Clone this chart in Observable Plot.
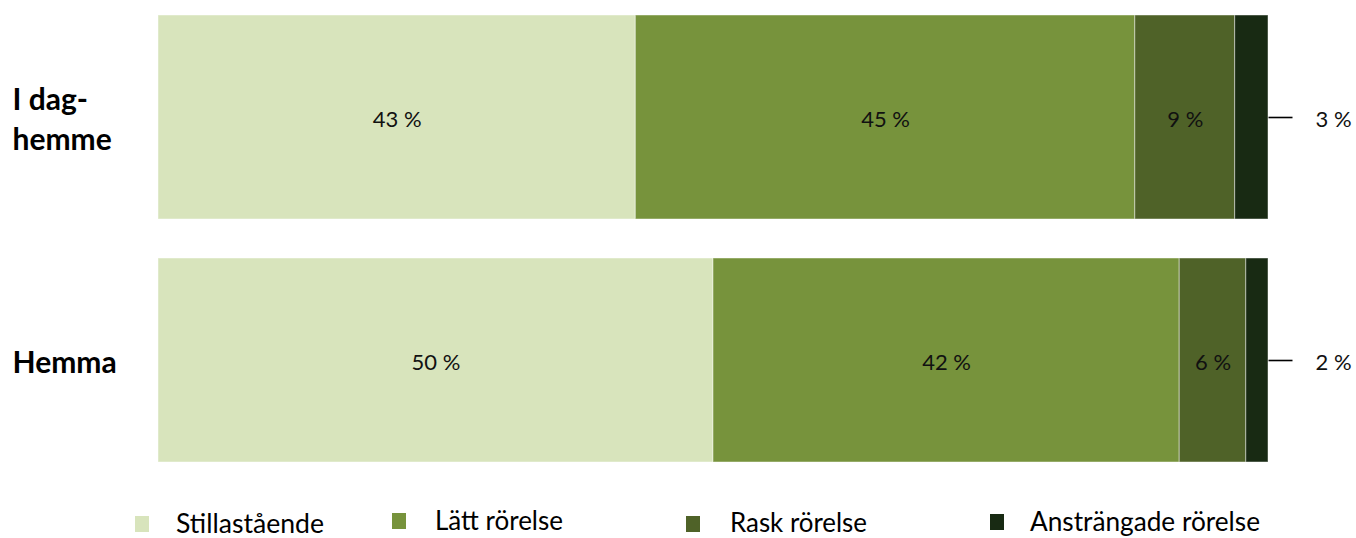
<!DOCTYPE html>
<html>
<head>
<meta charset="utf-8">
<script src="https://cdn.jsdelivr.net/npm/d3@7"></script>
<script src="https://cdn.jsdelivr.net/npm/@observablehq/plot@0.6"></script>
<style>
  html, body { margin: 0; padding: 0; background: #fff; }
  #chart svg { display: block; }
  #legend { display: block; }
</style>
</head>
<body>
<div id="chart"></div>
<svg id="legend" width="1356" height="58"></svg>
<script>
// ---- data ----
const categories = ["I dag-\nhemme", "Hemma"];
const series = ["Stillastående", "Lätt rörelse", "Rask rörelse", "Ansträngade rörelse"];
const valuesIDag = [43, 45, 9, 3];
const valuesHemma = [50, 42, 6, 2];
const colors = ["#d8e4bc", "#77933c", "#4f6228", "#182a13"];

const table = [];
[valuesIDag, valuesHemma].forEach((vals, ci) => {
  const total = d3.sum(vals);
  vals.forEach((v, si) => table.push({cat: categories[ci], series: series[si], order: si, value: v, total}));
});
const small = table.filter(d => d.value < 4);

const leader = {draw(ctx) { ctx.moveTo(0, 0); ctx.lineTo(24, 0); }};

const chart = Plot.plot({
  width: 1356,
  height: 480,
  marginLeft: 158,
  marginRight: 88,
  marginTop: 15,
  marginBottom: 17,
  style: {fontFamily: "Lato, sans-serif", fontSize: "22px", color: "#000", background: "#fff"},
  x: {domain: [0, 100], axis: null},
  y: {domain: categories, axis: null, paddingInner: 0.16, paddingOuter: 0},
  color: {domain: series, range: colors},
  marks: [
    Plot.barX(table, Plot.stackX({
      x: "value", y: "cat", fill: "series", order: "order",
      stroke: "#ffffff", strokeOpacity: 0.45, strokeWidth: 1, inset: 0
    })),
    Plot.text(table, Plot.stackX({
      x: "value", y: "cat", order: "order", z: "series",
      text: d => d.value >= 4 ? `${d.value} %` : null,
      fill: "#111", dy: 2
    })),
    Plot.dot(small, {x: "total", y: "cat", symbol: leader, stroke: "#000", strokeWidth: 1.6, fill: "none"}),
    Plot.text(small, {x: "total", y: "cat", text: d => `${d.value} %`, dx: 65, fill: "#111", dy: 2}),
    Plot.text(categories, {
      y: d => d, text: d => d, frameAnchor: "left", textAnchor: "start",
      dx: -146, fontWeight: "bold", fontSize: 30, lineHeight: 1.33, fill: "#000"
    })
  ]
});
document.getElementById("chart").appendChild(chart);

// ---- legend ----
const legendItems = [
  {sx: 135, sy: 36, tx: 176, ty: 53, tw: 148},
  {sx: 392, sy: 33, tx: 435, ty: 50, tw: 128},
  {sx: 686, sy: 36, tx: 730, ty: 52, tw: 137},
  {sx: 990, sy: 34, tx: 1030, ty: 51, tw: 230}
];
const lg = d3.select("#legend");
series.forEach((s, i) => {
  const it = legendItems[i];
  lg.append("rect").attr("x", it.sx).attr("y", it.sy).attr("width", 14).attr("height", 16).attr("fill", colors[i]);
  lg.append("text").attr("x", it.tx).attr("y", it.ty)
    .attr("font-family", "Lato, sans-serif").attr("font-size", 26).attr("fill", "#000")
    .attr("textLength", it.tw).attr("lengthAdjust", "spacingAndGlyphs")
    .text(s);
});
</script>
</body>
</html>
